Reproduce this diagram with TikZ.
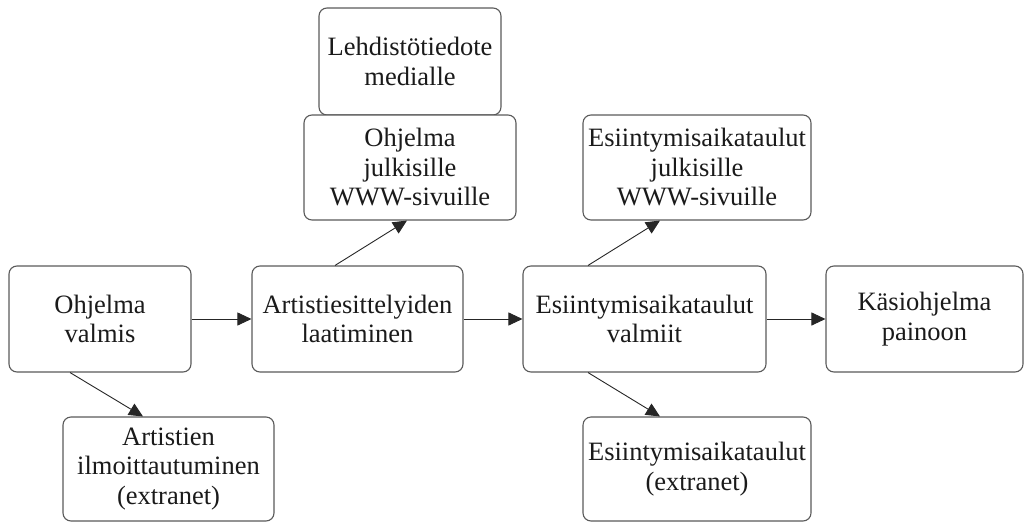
\documentclass[tikz,border=0pt]{standalone}
\usepackage{fontspec}
\setmainfont{Liberation Serif}
\usetikzlibrary{arrows.meta,calc}
\definecolor{boxline}{HTML}{5A5A5A}
\definecolor{txt}{HTML}{1A1A1A}
\tikzset{
  stepbox/.style={draw=boxline, line width=1.1pt, rounded corners=8pt, fill=white,
    inner sep=0pt, align=center, text=txt,
    font=\fontsize{26.5}{29.5}\selectfont},
  conn/.style={draw=black!85, line width=0.9pt, -{Triangle[length=14pt,width=13pt]}}
}
\begin{document}
\begin{tikzpicture}[x=1pt,y=-1pt]
\useasboundingbox (0,0) rectangle (1024,522);
\node[stepbox, minimum width=182pt, minimum height=107pt] (lehd) at (410,61.5) {Lehdistötiedote\\medialle};
\node[stepbox, minimum width=212pt, minimum height=105pt] (ohjjulk) at (410,167.5) {Ohjelma\\julkisille\\WWW-sivuille};
\node[stepbox, minimum width=228pt, minimum height=105pt] (esijulk) at (697,167.5) {Esiintymisaikataulut\\julkisille\\WWW-sivuille};
\node[stepbox, minimum width=182pt, minimum height=106pt] (ohjv) at (100,319) {Ohjelma\\valmis};
\node[stepbox, minimum width=211pt, minimum height=106pt] (art) at (357.5,319) {Artistiesittelyiden\\laatiminen};
\node[stepbox, minimum width=243pt, minimum height=106pt] (esiv) at (644.5,319) {Esiintymisaikataulut\\valmiit};
\node[stepbox, minimum width=197pt, minimum height=106pt] (kasi) at (924.5,319) {Käsiohjelma\\painoon};
\node[stepbox, minimum width=211pt, minimum height=104pt] (artilm) at (168.5,469) {Artistien\\ilmoittautuminen\\(extranet)};
\node[stepbox, minimum width=228pt, minimum height=104pt] (esiext) at (697,469) {Esiintymisaikataulut\\(extranet)};

\draw[conn] (ohjv.east) -- (art.west);
\draw[conn] (art.east) -- (esiv.west);
\draw[conn] (esiv.east) -- (kasi.west);
\draw[conn] ($(art.north)+(-22.5,0)$) -- ($(ohjjulk.south)+(-3,0)$);
\draw[conn] ($(esiv.north)+(-56.5,0)$) -- ($(esijulk.south)+(-37,0)$);
\draw[conn] ($(ohjv.south)+(-30,0)$) -- ($(artilm.north)+(-25.5,0)$);
\draw[conn] ($(esiv.south)+(-56.5,0)$) -- ($(esiext.north)+(-37,0)$);
\end{tikzpicture}
\end{document}
